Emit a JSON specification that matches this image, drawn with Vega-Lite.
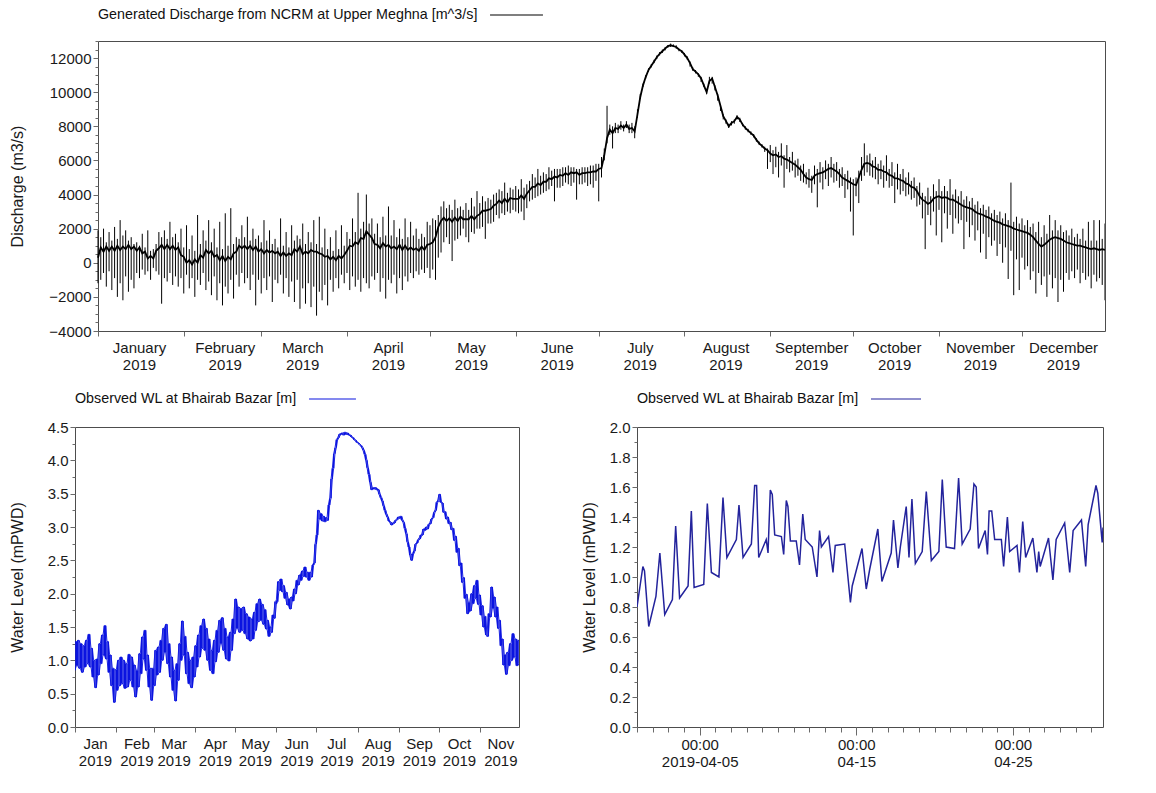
{
  "$schema": "https://vega.github.io/schema/vega-lite/v6.json",
  "background": "white",
  "padding": {"left": 8, "top": 7, "right": 5, "bottom": 5},
  "columns": 1,
  "align": "none",
  "spacing": 18,
  "config": {
    "font": "Liberation Sans",
    "view": {"stroke": "#4d4d4d", "strokeWidth": 1},
    "axis": {
      "grid": false, "domain": false, "domainColor": "#4d4d4d", "domainWidth": 1,
      "labelFont": "Liberation Sans", "labelFontSize": 15, "labelColor": "#1a1a1a",
      "titleFont": "Liberation Sans", "titleFontSize": 16, "titleFontWeight": "normal", "titleColor": "#1a1a1a",
      "tickColor": "#6a6a6a", "labelLineHeight": 17
    },
    "legend": {
      "titleFont": "Liberation Sans", "titleFontSize": 14.3, "titleFontWeight": "normal", "titleColor": "#111111",
      "titleOrient": "left", "titlePadding": 11, "titleLimit": 700, "clipHeight": 16,
      "symbolType": "stroke", "symbolStrokeWidth": 1.2, "labelFontSize": 1, "padding": 0
    }
  },
  "resolve": {"scale": {"color": "independent"}, "legend": {"color": "independent"}},
  "datasets": {
    "wa": [
      {"t":"2019-04-01T00:00","v":0.80},{"t":"2019-04-01T09:00","v":1.07},{"t":"2019-04-01T11:30","v":1.04},{"t":"2019-04-01T18:00","v":0.67},
      {"t":"2019-04-02T05:00","v":0.87},{"t":"2019-04-02T11:00","v":1.16},{"t":"2019-04-02T18:30","v":0.75},
      {"t":"2019-04-03T06:15","v":0.85},{"t":"2019-04-03T11:15","v":1.34},{"t":"2019-04-03T17:15","v":0.86},
      {"t":"2019-04-04T06:15","v":0.94},{"t":"2019-04-04T11:15","v":1.44},{"t":"2019-04-04T15:30","v":0.93},
      {"t":"2019-04-05T06:15","v":0.95},{"t":"2019-04-05T11:45","v":1.49},{"t":"2019-04-05T18:00","v":1.03},
      {"t":"2019-04-06T05:30","v":1.00},{"t":"2019-04-06T11:45","v":1.53},{"t":"2019-04-06T17:45","v":1.13},
      {"t":"2019-04-07T08:15","v":1.25},{"t":"2019-04-07T12:15","v":1.48},{"t":"2019-04-07T18:30","v":1.13},
      {"t":"2019-04-08T07:15","v":1.22},{"t":"2019-04-08T12:15","v":1.61},{"t":"2019-04-08T15:15","v":1.61},{"t":"2019-04-08T18:30","v":1.13},
      {"t":"2019-04-09T06:00","v":1.25},{"t":"2019-04-09T08:45","v":1.16},{"t":"2019-04-09T12:15","v":1.58},{"t":"2019-04-09T15:15","v":1.55},{"t":"2019-04-09T19:00","v":1.28},
      {"t":"2019-04-10T05:15","v":1.27},{"t":"2019-04-10T08:45","v":1.15},{"t":"2019-04-10T12:45","v":1.51},{"t":"2019-04-10T15:15","v":1.47},{"t":"2019-04-10T19:00","v":1.24},
      {"t":"2019-04-11T04:00","v":1.24},{"t":"2019-04-11T09:00","v":1.08},{"t":"2019-04-11T14:00","v":1.42},{"t":"2019-04-11T17:45","v":1.25},
      {"t":"2019-04-12T04:30","v":1.20},{"t":"2019-04-12T11:45","v":1.00},{"t":"2019-04-12T15:45","v":1.31},{"t":"2019-04-12T18:30","v":1.20},
      {"t":"2019-04-13T05:30","v":1.27},{"t":"2019-04-13T12:15","v":1.03},{"t":"2019-04-13T15:45","v":1.21},
      {"t":"2019-04-14T06:15","v":1.22},{"t":"2019-04-14T15:00","v":0.83},{"t":"2019-04-14T17:45","v":0.94},
      {"t":"2019-04-15T08:45","v":1.19},{"t":"2019-04-15T15:15","v":0.92},{"t":"2019-04-15T20:30","v":1.05},
      {"t":"2019-04-16T09:00","v":1.32},{"t":"2019-04-16T15:15","v":0.97},
      {"t":"2019-04-17T05:30","v":1.16},{"t":"2019-04-17T09:00","v":1.38},{"t":"2019-04-17T15:45","v":1.06},{"t":"2019-04-17T19:30","v":1.20},
      {"t":"2019-04-18T04:30","v":1.47},{"t":"2019-04-18T08:45","v":1.13},{"t":"2019-04-18T13:15","v":1.52},{"t":"2019-04-18T18:30","v":1.09},
      {"t":"2019-04-19T05:00","v":1.17},{"t":"2019-04-19T11:15","v":1.57},{"t":"2019-04-19T19:00","v":1.11},
      {"t":"2019-04-20T06:30","v":1.17},{"t":"2019-04-20T11:45","v":1.65},{"t":"2019-04-20T17:45","v":1.20},
      {"t":"2019-04-21T06:30","v":1.19},{"t":"2019-04-21T12:45","v":1.66},{"t":"2019-04-21T18:15","v":1.22},
      {"t":"2019-04-22T06:30","v":1.32},{"t":"2019-04-22T12:15","v":1.62},{"t":"2019-04-22T15:45","v":1.60},{"t":"2019-04-22T19:15","v":1.19},
      {"t":"2019-04-23T05:30","v":1.31},{"t":"2019-04-23T09:00","v":1.15},{"t":"2019-04-23T11:30","v":1.44},{"t":"2019-04-23T15:30","v":1.44},{"t":"2019-04-23T20:00","v":1.25},
      {"t":"2019-04-24T06:15","v":1.25},{"t":"2019-04-24T09:45","v":1.07},{"t":"2019-04-24T15:30","v":1.40},{"t":"2019-04-24T19:00","v":1.17},
      {"t":"2019-04-25T06:15","v":1.21},{"t":"2019-04-25T10:00","v":1.03},{"t":"2019-04-25T15:00","v":1.37},{"t":"2019-04-25T19:30","v":1.13},
      {"t":"2019-04-26T06:30","v":1.26},{"t":"2019-04-26T12:45","v":1.03},{"t":"2019-04-26T15:30","v":1.17},{"t":"2019-04-26T17:45","v":1.07},
      {"t":"2019-04-27T06:30","v":1.26},{"t":"2019-04-27T13:15","v":0.98},{"t":"2019-04-27T18:15","v":1.25},
      {"t":"2019-04-28T07:15","v":1.36},{"t":"2019-04-28T15:00","v":1.03},{"t":"2019-04-28T20:15","v":1.31},
      {"t":"2019-04-29T09:00","v":1.38},{"t":"2019-04-29T15:30","v":1.07},{"t":"2019-04-29T19:15","v":1.35},
      {"t":"2019-04-30T07:15","v":1.61},{"t":"2019-04-30T10:00","v":1.56},{"t":"2019-04-30T16:45","v":1.23},{"t":"2019-04-30T18:00","v":1.33}
    ],
    "wl": [
      {"t":"2019-01-01T00:00","lo":0.85,"hi":1.28},{"t":"2019-01-02T00:00","lo":0.92,"hi":1.28},{"t":"2019-01-03T00:00","lo":0.92,"hi":1.30},{"t":"2019-01-04T00:00","lo":0.88,"hi":1.30},
      {"t":"2019-01-05T00:00","lo":0.88,"hi":1.25},{"t":"2019-01-06T00:00","lo":0.82,"hi":1.25},{"t":"2019-01-07T00:00","lo":0.82,"hi":1.22},{"t":"2019-01-08T00:00","lo":0.90,"hi":1.22},
      {"t":"2019-01-09T00:00","lo":0.90,"hi":1.30},{"t":"2019-01-10T00:00","lo":0.95,"hi":1.30},{"t":"2019-01-11T00:00","lo":0.95,"hi":1.39},{"t":"2019-01-12T00:00","lo":0.90,"hi":1.39},
      {"t":"2019-01-13T00:00","lo":0.90,"hi":1.18},{"t":"2019-01-14T00:00","lo":0.75,"hi":1.18},{"t":"2019-01-15T00:00","lo":0.75,"hi":1.00},{"t":"2019-01-16T00:00","lo":0.59,"hi":1.00},
      {"t":"2019-01-17T00:00","lo":0.59,"hi":1.02},{"t":"2019-01-18T00:00","lo":0.78,"hi":1.02},{"t":"2019-01-19T00:00","lo":0.78,"hi":1.25},{"t":"2019-01-20T00:00","lo":0.95,"hi":1.25},
      {"t":"2019-01-21T00:00","lo":0.95,"hi":1.38},{"t":"2019-01-22T00:00","lo":1.08,"hi":1.38},{"t":"2019-01-23T00:00","lo":1.08,"hi":1.52},{"t":"2019-01-24T00:00","lo":1.02,"hi":1.52},
      {"t":"2019-01-25T00:00","lo":1.02,"hi":1.28},{"t":"2019-01-26T00:00","lo":0.82,"hi":1.28},{"t":"2019-01-27T00:00","lo":0.82,"hi":1.08},{"t":"2019-01-28T00:00","lo":0.62,"hi":1.08},
      {"t":"2019-01-29T00:00","lo":0.62,"hi":0.88},{"t":"2019-01-30T00:00","lo":0.37,"hi":0.88},{"t":"2019-01-31T00:00","lo":0.37,"hi":0.86},
      {"t":"2019-02-01T00:00","lo":0.55,"hi":0.86},{"t":"2019-02-02T00:00","lo":0.55,"hi":1.00},{"t":"2019-02-03T00:00","lo":0.62,"hi":1.00},{"t":"2019-02-04T00:00","lo":0.62,"hi":1.05},
      {"t":"2019-02-05T00:00","lo":0.65,"hi":1.05},{"t":"2019-02-06T00:00","lo":0.65,"hi":1.00},{"t":"2019-02-07T00:00","lo":0.58,"hi":1.00},{"t":"2019-02-08T00:00","lo":0.58,"hi":0.95},
      {"t":"2019-02-09T00:00","lo":0.60,"hi":0.95},{"t":"2019-02-10T00:00","lo":0.60,"hi":1.09},{"t":"2019-02-11T00:00","lo":0.70,"hi":1.09},{"t":"2019-02-12T00:00","lo":0.70,"hi":1.05},
      {"t":"2019-02-13T00:00","lo":0.60,"hi":1.05},{"t":"2019-02-14T00:00","lo":0.60,"hi":0.93},{"t":"2019-02-15T00:00","lo":0.45,"hi":0.93},{"t":"2019-02-16T00:00","lo":0.45,"hi":0.85},
      {"t":"2019-02-17T00:00","lo":0.60,"hi":0.85},{"t":"2019-02-18T00:00","lo":0.60,"hi":1.10},{"t":"2019-02-19T00:00","lo":0.80,"hi":1.10},{"t":"2019-02-20T00:00","lo":0.80,"hi":1.35},
      {"t":"2019-02-21T00:00","lo":1.02,"hi":1.35},{"t":"2019-02-22T00:00","lo":1.02,"hi":1.45},{"t":"2019-02-23T00:00","lo":0.85,"hi":1.45},{"t":"2019-02-24T00:00","lo":0.85,"hi":1.08},
      {"t":"2019-02-25T00:00","lo":0.60,"hi":1.08},{"t":"2019-02-26T00:00","lo":0.60,"hi":0.88},{"t":"2019-02-27T00:00","lo":0.40,"hi":0.88},{"t":"2019-02-28T00:00","lo":0.40,"hi":0.88},
      {"t":"2019-03-01T00:00","lo":0.62,"hi":0.88},{"t":"2019-03-02T00:00","lo":0.62,"hi":1.15},{"t":"2019-03-03T00:00","lo":0.78,"hi":1.15},{"t":"2019-03-04T00:00","lo":0.78,"hi":1.20},
      {"t":"2019-03-05T00:00","lo":0.82,"hi":1.20},{"t":"2019-03-06T00:00","lo":0.82,"hi":1.30},{"t":"2019-03-07T00:00","lo":1.00,"hi":1.30},{"t":"2019-03-08T00:00","lo":1.00,"hi":1.48},
      {"t":"2019-03-09T00:00","lo":1.12,"hi":1.48},{"t":"2019-03-10T00:00","lo":1.12,"hi":1.54},{"t":"2019-03-11T00:00","lo":0.95,"hi":1.54},{"t":"2019-03-12T00:00","lo":0.95,"hi":1.25},
      {"t":"2019-03-13T00:00","lo":0.75,"hi":1.25},{"t":"2019-03-14T00:00","lo":0.75,"hi":1.05},{"t":"2019-03-15T00:00","lo":0.55,"hi":1.05},{"t":"2019-03-16T00:00","lo":0.55,"hi":0.85},
      {"t":"2019-03-17T00:00","lo":0.39,"hi":0.85},{"t":"2019-03-18T00:00","lo":0.39,"hi":0.95},{"t":"2019-03-19T00:00","lo":0.70,"hi":0.95},{"t":"2019-03-20T00:00","lo":0.70,"hi":1.25},
      {"t":"2019-03-21T00:00","lo":1.00,"hi":1.25},{"t":"2019-03-22T00:00","lo":1.00,"hi":1.59},{"t":"2019-03-23T00:00","lo":1.08,"hi":1.59},{"t":"2019-03-24T00:00","lo":1.08,"hi":1.36},
      {"t":"2019-03-25T00:00","lo":0.80,"hi":1.36},{"t":"2019-03-26T00:00","lo":0.80,"hi":1.12},{"t":"2019-03-27T00:00","lo":0.65,"hi":1.12},{"t":"2019-03-28T00:00","lo":0.65,"hi":1.00},
      {"t":"2019-03-29T00:00","lo":0.59,"hi":1.00},{"t":"2019-03-30T00:00","lo":0.59,"hi":1.05},{"t":"2019-03-31T00:00","lo":0.75,"hi":1.05},
      {"t":"2019-04-01T00:00","lo":0.75,"hi":1.22},{"t":"2019-04-02T00:00","lo":0.90,"hi":1.22},{"t":"2019-04-03T00:00","lo":0.90,"hi":1.38},{"t":"2019-04-04T00:00","lo":1.05,"hi":1.38},
      {"t":"2019-04-05T00:00","lo":1.05,"hi":1.52},{"t":"2019-04-06T00:00","lo":1.18,"hi":1.52},{"t":"2019-04-07T00:00","lo":1.18,"hi":1.62},{"t":"2019-04-08T00:00","lo":1.15,"hi":1.62},
      {"t":"2019-04-09T00:00","lo":1.15,"hi":1.48},{"t":"2019-04-10T00:00","lo":1.00,"hi":1.48},{"t":"2019-04-11T00:00","lo":1.00,"hi":1.32},{"t":"2019-04-12T00:00","lo":0.85,"hi":1.32},
      {"t":"2019-04-13T00:00","lo":0.85,"hi":1.15},{"t":"2019-04-14T00:00","lo":0.80,"hi":1.15},{"t":"2019-04-15T00:00","lo":0.80,"hi":1.30},{"t":"2019-04-16T00:00","lo":0.98,"hi":1.30},
      {"t":"2019-04-17T00:00","lo":0.98,"hi":1.45},{"t":"2019-04-18T00:00","lo":1.12,"hi":1.45},{"t":"2019-04-19T00:00","lo":1.12,"hi":1.60},{"t":"2019-04-20T00:00","lo":1.25,"hi":1.60},
      {"t":"2019-04-21T00:00","lo":1.25,"hi":1.64},{"t":"2019-04-22T00:00","lo":1.15,"hi":1.64},{"t":"2019-04-23T00:00","lo":1.15,"hi":1.48},{"t":"2019-04-24T00:00","lo":1.02,"hi":1.48},
      {"t":"2019-04-25T00:00","lo":1.02,"hi":1.35},{"t":"2019-04-26T00:00","lo":0.99,"hi":1.35},{"t":"2019-04-27T00:00","lo":0.99,"hi":1.42},{"t":"2019-04-28T00:00","lo":1.15,"hi":1.42},
      {"t":"2019-04-29T00:00","lo":1.15,"hi":1.62},{"t":"2019-04-30T00:00","lo":1.40,"hi":1.62},
      {"t":"2019-05-01T00:00","lo":1.40,"hi":1.92},{"t":"2019-05-02T00:00","lo":1.48,"hi":1.92},{"t":"2019-05-03T00:00","lo":1.48,"hi":1.80},{"t":"2019-05-04T00:00","lo":1.42,"hi":1.80},
      {"t":"2019-05-05T00:00","lo":1.42,"hi":1.78},{"t":"2019-05-06T00:00","lo":1.45,"hi":1.78},{"t":"2019-05-07T00:00","lo":1.45,"hi":1.80},{"t":"2019-05-08T00:00","lo":1.40,"hi":1.80},
      {"t":"2019-05-09T00:00","lo":1.40,"hi":1.70},{"t":"2019-05-10T00:00","lo":1.32,"hi":1.70},{"t":"2019-05-11T00:00","lo":1.32,"hi":1.65},{"t":"2019-05-12T00:00","lo":1.29,"hi":1.65},
      {"t":"2019-05-13T00:00","lo":1.29,"hi":1.62},{"t":"2019-05-14T00:00","lo":1.32,"hi":1.62},{"t":"2019-05-15T00:00","lo":1.32,"hi":1.72},{"t":"2019-05-16T00:00","lo":1.45,"hi":1.72},
      {"t":"2019-05-17T00:00","lo":1.45,"hi":1.85},{"t":"2019-05-18T00:00","lo":1.58,"hi":1.85},{"t":"2019-05-19T00:00","lo":1.58,"hi":1.92},{"t":"2019-05-20T00:00","lo":1.60,"hi":1.92},
      {"t":"2019-05-21T00:00","lo":1.60,"hi":1.84},{"t":"2019-05-22T00:00","lo":1.54,"hi":1.84},{"t":"2019-05-23T00:00","lo":1.54,"hi":1.76},{"t":"2019-05-24T00:00","lo":1.47,"hi":1.76},
      {"t":"2019-05-25T00:00","lo":1.47,"hi":1.60},{"t":"2019-05-26T00:00","lo":1.36,"hi":1.60},{"t":"2019-05-27T00:00","lo":1.36,"hi":1.50},{"t":"2019-05-28T00:00","lo":1.42,"hi":1.50},
      {"t":"2019-05-29T00:00","lo":1.42,"hi":1.68},{"t":"2019-05-30T00:00","lo":1.63,"hi":1.68},{"t":"2019-05-31T00:00","lo":1.63,"hi":1.88},
      {"t":"2019-06-01T00:00","lo":1.84,"hi":1.90},{"t":"2019-06-02T00:00","lo":1.88,"hi":2.18},{"t":"2019-06-03T00:00","lo":2.05,"hi":2.18},{"t":"2019-06-04T00:00","lo":2.05,"hi":2.22},
      {"t":"2019-06-05T00:00","lo":2.03,"hi":2.22},{"t":"2019-06-06T00:00","lo":2.03,"hi":2.12},{"t":"2019-06-07T00:00","lo":1.93,"hi":2.12},{"t":"2019-06-08T00:00","lo":1.93,"hi":2.02},
      {"t":"2019-06-09T00:00","lo":1.83,"hi":2.02},{"t":"2019-06-10T00:00","lo":1.83,"hi":1.92},{"t":"2019-06-11T00:00","lo":1.77,"hi":1.92},{"t":"2019-06-12T00:00","lo":1.77,"hi":1.95},
      {"t":"2019-06-13T00:00","lo":1.89,"hi":1.95},{"t":"2019-06-14T00:00","lo":1.89,"hi":2.07},{"t":"2019-06-15T00:00","lo":2.00,"hi":2.07},{"t":"2019-06-16T00:00","lo":2.00,"hi":2.20},
      {"t":"2019-06-17T00:00","lo":2.13,"hi":2.20},{"t":"2019-06-18T00:00","lo":2.13,"hi":2.28},{"t":"2019-06-19T00:00","lo":2.20,"hi":2.28},{"t":"2019-06-20T00:00","lo":2.20,"hi":2.34},
      {"t":"2019-06-21T00:00","lo":2.26,"hi":2.34},{"t":"2019-06-22T00:00","lo":2.26,"hi":2.40},{"t":"2019-06-23T00:00","lo":2.25,"hi":2.40},{"t":"2019-06-24T00:00","lo":2.25,"hi":2.32},
      {"t":"2019-06-25T00:00","lo":2.20,"hi":2.32},{"t":"2019-06-26T00:00","lo":2.20,"hi":2.32},{"t":"2019-06-27T00:00","lo":2.25,"hi":2.32},{"t":"2019-06-28T00:00","lo":2.25,"hi":2.43},
      {"t":"2019-06-29T00:00","lo":2.43,"hi":2.46},{"t":"2019-06-30T00:00","lo":2.46,"hi":2.74},
      {"t":"2019-07-01T00:00","lo":2.74,"hi":2.88},{"t":"2019-07-02T00:00","lo":2.88,"hi":3.25},{"t":"2019-07-03T00:00","lo":3.12,"hi":3.25},{"t":"2019-07-04T00:00","lo":3.12,"hi":3.20},
      {"t":"2019-07-05T00:00","lo":3.09,"hi":3.20},{"t":"2019-07-06T00:00","lo":3.09,"hi":3.16},{"t":"2019-07-07T00:00","lo":3.08,"hi":3.16},{"t":"2019-07-08T00:00","lo":3.08,"hi":3.14},
      {"t":"2019-07-09T00:00","lo":3.10,"hi":3.14},{"t":"2019-07-10T00:00","lo":3.10,"hi":3.33},{"t":"2019-07-11T00:00","lo":3.33,"hi":3.43},{"t":"2019-07-12T00:00","lo":3.43,"hi":3.72},
      {"t":"2019-07-13T00:00","lo":3.72,"hi":3.88},{"t":"2019-07-14T00:00","lo":3.88,"hi":4.10},{"t":"2019-07-15T00:00","lo":4.10,"hi":4.19},{"t":"2019-07-16T00:00","lo":4.19,"hi":4.31},
      {"t":"2019-07-17T00:00","lo":4.31,"hi":4.34},{"t":"2019-07-18T00:00","lo":4.34,"hi":4.39},{"t":"2019-07-19T00:00","lo":4.38,"hi":4.40},{"t":"2019-07-20T00:00","lo":4.39,"hi":4.41},
      {"t":"2019-07-21T00:00","lo":4.38,"hi":4.41},{"t":"2019-07-22T00:00","lo":4.38,"hi":4.42},{"t":"2019-07-23T00:00","lo":4.39,"hi":4.42},{"t":"2019-07-24T00:00","lo":4.39,"hi":4.41},
      {"t":"2019-07-25T00:00","lo":4.38,"hi":4.41},{"t":"2019-07-26T00:00","lo":4.37,"hi":4.38},{"t":"2019-07-27T00:00","lo":4.35,"hi":4.38},{"t":"2019-07-28T00:00","lo":4.34,"hi":4.35},
      {"t":"2019-07-29T00:00","lo":4.31,"hi":4.34},{"t":"2019-07-30T00:00","lo":4.30,"hi":4.31},{"t":"2019-07-31T00:00","lo":4.27,"hi":4.30},
      {"t":"2019-08-01T00:00","lo":4.26,"hi":4.27},{"t":"2019-08-02T00:00","lo":4.24,"hi":4.26},{"t":"2019-08-03T00:00","lo":4.22,"hi":4.24},{"t":"2019-08-04T00:00","lo":4.19,"hi":4.22},
      {"t":"2019-08-05T00:00","lo":4.15,"hi":4.19},{"t":"2019-08-06T00:00","lo":4.09,"hi":4.15},{"t":"2019-08-07T00:00","lo":4.00,"hi":4.09},{"t":"2019-08-08T00:00","lo":3.89,"hi":4.00},
      {"t":"2019-08-09T00:00","lo":3.79,"hi":3.89},{"t":"2019-08-10T00:00","lo":3.67,"hi":3.79},{"t":"2019-08-11T00:00","lo":3.56,"hi":3.67},{"t":"2019-08-12T00:00","lo":3.56,"hi":3.59},
      {"t":"2019-08-13T00:00","lo":3.57,"hi":3.59},{"t":"2019-08-14T00:00","lo":3.57,"hi":3.59},{"t":"2019-08-15T00:00","lo":3.56,"hi":3.59},{"t":"2019-08-16T00:00","lo":3.55,"hi":3.57},
      {"t":"2019-08-17T00:00","lo":3.49,"hi":3.56},{"t":"2019-08-18T00:00","lo":3.44,"hi":3.49},{"t":"2019-08-19T00:00","lo":3.39,"hi":3.44},{"t":"2019-08-20T00:00","lo":3.32,"hi":3.39},
      {"t":"2019-08-21T00:00","lo":3.25,"hi":3.32},{"t":"2019-08-22T00:00","lo":3.19,"hi":3.25},{"t":"2019-08-23T00:00","lo":3.15,"hi":3.19},{"t":"2019-08-24T00:00","lo":3.09,"hi":3.15},
      {"t":"2019-08-25T00:00","lo":3.07,"hi":3.09},{"t":"2019-08-26T00:00","lo":3.03,"hi":3.07},{"t":"2019-08-27T00:00","lo":3.03,"hi":3.06},{"t":"2019-08-28T00:00","lo":3.05,"hi":3.07},
      {"t":"2019-08-29T00:00","lo":3.06,"hi":3.10},{"t":"2019-08-30T00:00","lo":3.10,"hi":3.11},{"t":"2019-08-31T00:00","lo":3.11,"hi":3.15},
      {"t":"2019-09-01T00:00","lo":3.13,"hi":3.15},{"t":"2019-09-02T00:00","lo":3.13,"hi":3.16},{"t":"2019-09-03T00:00","lo":3.10,"hi":3.16},{"t":"2019-09-04T00:00","lo":3.07,"hi":3.10},
      {"t":"2019-09-05T00:00","lo":2.98,"hi":3.07},{"t":"2019-09-06T00:00","lo":2.90,"hi":2.98},{"t":"2019-09-07T00:00","lo":2.78,"hi":2.90},{"t":"2019-09-08T00:00","lo":2.70,"hi":2.78},
      {"t":"2019-09-09T00:00","lo":2.58,"hi":2.70},{"t":"2019-09-10T00:00","lo":2.50,"hi":2.58},{"t":"2019-09-11T00:00","lo":2.50,"hi":2.60},{"t":"2019-09-12T00:00","lo":2.60,"hi":2.64},
      {"t":"2019-09-13T00:00","lo":2.64,"hi":2.74},{"t":"2019-09-14T00:00","lo":2.74,"hi":2.76},{"t":"2019-09-15T00:00","lo":2.76,"hi":2.81},{"t":"2019-09-16T00:00","lo":2.81,"hi":2.83},
      {"t":"2019-09-17T00:00","lo":2.82,"hi":2.88},{"t":"2019-09-18T00:00","lo":2.87,"hi":2.89},{"t":"2019-09-19T00:00","lo":2.88,"hi":2.97},{"t":"2019-09-20T00:00","lo":2.95,"hi":2.97},
      {"t":"2019-09-21T00:00","lo":2.95,"hi":3.00},{"t":"2019-09-22T00:00","lo":2.97,"hi":3.00},{"t":"2019-09-23T00:00","lo":2.97,"hi":3.04},{"t":"2019-09-24T00:00","lo":3.04,"hi":3.06},
      {"t":"2019-09-25T00:00","lo":3.05,"hi":3.12},{"t":"2019-09-26T00:00","lo":3.12,"hi":3.14},{"t":"2019-09-27T00:00","lo":3.14,"hi":3.22},{"t":"2019-09-28T00:00","lo":3.22,"hi":3.25},
      {"t":"2019-09-29T00:00","lo":3.25,"hi":3.37},{"t":"2019-09-30T00:00","lo":3.37,"hi":3.40},
      {"t":"2019-10-01T00:00","lo":3.40,"hi":3.49},{"t":"2019-10-02T00:00","lo":3.37,"hi":3.49},{"t":"2019-10-03T00:00","lo":3.36,"hi":3.37},{"t":"2019-10-04T00:00","lo":3.22,"hi":3.36},
      {"t":"2019-10-05T00:00","lo":3.22,"hi":3.23},{"t":"2019-10-06T00:00","lo":3.12,"hi":3.23},{"t":"2019-10-07T00:00","lo":3.12,"hi":3.15},{"t":"2019-10-08T00:00","lo":3.05,"hi":3.15},
      {"t":"2019-10-09T00:00","lo":3.05,"hi":3.07},{"t":"2019-10-10T00:00","lo":2.96,"hi":3.07},{"t":"2019-10-11T00:00","lo":2.96,"hi":2.98},{"t":"2019-10-12T00:00","lo":2.80,"hi":2.98},
      {"t":"2019-10-13T00:00","lo":2.80,"hi":2.86},{"t":"2019-10-14T00:00","lo":2.62,"hi":2.86},{"t":"2019-10-15T00:00","lo":2.62,"hi":2.68},{"t":"2019-10-16T00:00","lo":2.42,"hi":2.68},
      {"t":"2019-10-17T00:00","lo":2.42,"hi":2.46},{"t":"2019-10-18T00:00","lo":2.17,"hi":2.46},{"t":"2019-10-19T00:00","lo":2.17,"hi":2.24},{"t":"2019-10-20T00:00","lo":1.93,"hi":2.24},
      {"t":"2019-10-21T00:00","lo":1.93,"hi":1.99},{"t":"2019-10-22T00:00","lo":1.70,"hi":1.99},{"t":"2019-10-23T00:00","lo":1.70,"hi":1.87},{"t":"2019-10-24T00:00","lo":1.74,"hi":1.87},
      {"t":"2019-10-25T00:00","lo":1.74,"hi":2.00},{"t":"2019-10-26T00:00","lo":1.85,"hi":2.00},{"t":"2019-10-27T00:00","lo":1.85,"hi":2.12},{"t":"2019-10-28T00:00","lo":1.93,"hi":2.12},
      {"t":"2019-10-29T00:00","lo":1.93,"hi":2.20},{"t":"2019-10-30T00:00","lo":1.84,"hi":2.20},{"t":"2019-10-31T00:00","lo":1.84,"hi":1.98},
      {"t":"2019-11-01T00:00","lo":1.68,"hi":1.98},{"t":"2019-11-02T00:00","lo":1.68,"hi":1.82},{"t":"2019-11-03T00:00","lo":1.50,"hi":1.82},{"t":"2019-11-04T00:00","lo":1.50,"hi":1.66},
      {"t":"2019-11-05T00:00","lo":1.38,"hi":1.66},{"t":"2019-11-06T00:00","lo":1.36,"hi":1.38},{"t":"2019-11-07T00:00","lo":1.36,"hi":1.70},{"t":"2019-11-08T00:00","lo":1.65,"hi":1.70},
      {"t":"2019-11-09T00:00","lo":1.65,"hi":2.10},{"t":"2019-11-10T00:00","lo":1.78,"hi":2.10},{"t":"2019-11-11T00:00","lo":1.78,"hi":1.95},{"t":"2019-11-12T00:00","lo":1.65,"hi":1.95},
      {"t":"2019-11-13T00:00","lo":1.65,"hi":1.80},{"t":"2019-11-14T00:00","lo":1.48,"hi":1.80},{"t":"2019-11-15T00:00","lo":1.48,"hi":1.60},{"t":"2019-11-16T00:00","lo":1.22,"hi":1.60},
      {"t":"2019-11-17T00:00","lo":1.22,"hi":1.32},{"t":"2019-11-18T00:00","lo":0.93,"hi":1.32},{"t":"2019-11-19T00:00","lo":0.93,"hi":1.08},{"t":"2019-11-20T00:00","lo":0.79,"hi":1.08},
      {"t":"2019-11-21T00:00","lo":0.79,"hi":1.12},{"t":"2019-11-22T00:00","lo":0.92,"hi":1.12},{"t":"2019-11-23T00:00","lo":0.92,"hi":1.25},{"t":"2019-11-24T00:00","lo":1.00,"hi":1.25},
      {"t":"2019-11-25T00:00","lo":1.00,"hi":1.40},{"t":"2019-11-26T00:00","lo":1.05,"hi":1.40},{"t":"2019-11-27T00:00","lo":1.05,"hi":1.32},{"t":"2019-11-28T00:00","lo":0.92,"hi":1.32},
      {"t":"2019-11-29T00:00","lo":0.92,"hi":1.30},{"t":"2019-11-30T00:00","lo":0.95,"hi":1.30}
    ],
    "dq": [
      {"t":"2019-01-01T00:00","c":300,"lo":-1200,"hi":1900},{"t":"2019-01-02T00:00","c":900,"lo":-1000,"hi":1500},{"t":"2019-01-03T00:00","c":650,"lo":-600,"hi":2000},
      {"t":"2019-01-04T00:00","c":950,"lo":-1400,"hi":1200},{"t":"2019-01-05T00:00","c":700,"lo":-500,"hi":1800},{"t":"2019-01-06T00:00","c":950,"lo":-1600,"hi":1300},
      {"t":"2019-01-07T00:00","c":700,"lo":-900,"hi":2100},{"t":"2019-01-08T00:00","c":1000,"lo":-2000,"hi":1400},{"t":"2019-01-09T00:00","c":750,"lo":-1200,"hi":2500},
      {"t":"2019-01-10T00:00","c":950,"lo":-2200,"hi":1600},{"t":"2019-01-11T00:00","c":800,"lo":-800,"hi":1900},{"t":"2019-01-12T00:00","c":1050,"lo":-1700,"hi":1300},
      {"t":"2019-01-13T00:00","c":800,"lo":-1000,"hi":1500},{"t":"2019-01-14T00:00","c":950,"lo":-1500,"hi":1100},{"t":"2019-01-15T00:00","c":700,"lo":-600,"hi":1200},
      {"t":"2019-01-16T00:00","c":900,"lo":-900,"hi":1000},{"t":"2019-01-17T00:00","c":550,"lo":-400,"hi":1700},{"t":"2019-01-18T00:00","c":650,"lo":-700,"hi":900},
      {"t":"2019-01-19T00:00","c":250,"lo":-500,"hi":1900},{"t":"2019-01-20T00:00","c":400,"lo":-1000,"hi":700},{"t":"2019-01-21T00:00","c":250,"lo":-300,"hi":800},
      {"t":"2019-01-22T00:00","c":700,"lo":-500,"hi":1100},{"t":"2019-01-23T00:00","c":850,"lo":-700,"hi":1800},{"t":"2019-01-24T00:00","c":1050,"lo":-2400,"hi":1500},
      {"t":"2019-01-25T00:00","c":800,"lo":-900,"hi":1900},{"t":"2019-01-26T00:00","c":1050,"lo":-1100,"hi":1400},{"t":"2019-01-27T00:00","c":800,"lo":-600,"hi":2400},
      {"t":"2019-01-28T00:00","c":1000,"lo":-1300,"hi":1500},{"t":"2019-01-29T00:00","c":750,"lo":-800,"hi":1700},{"t":"2019-01-30T00:00","c":900,"lo":-1400,"hi":1200},
      {"t":"2019-01-31T00:00","c":450,"lo":-900,"hi":2000},
      {"t":"2019-02-01T00:00","c":350,"lo":-1800,"hi":900},{"t":"2019-02-02T00:00","c":0,"lo":-700,"hi":2200},{"t":"2019-02-03T00:00","c":150,"lo":-1500,"hi":800},
      {"t":"2019-02-04T00:00","c":-100,"lo":-900,"hi":1600},{"t":"2019-02-05T00:00","c":200,"lo":-2000,"hi":700},{"t":"2019-02-06T00:00","c":0,"lo":-1000,"hi":2800},
      {"t":"2019-02-07T00:00","c":450,"lo":-1300,"hi":1100},{"t":"2019-02-08T00:00","c":300,"lo":-600,"hi":1900},{"t":"2019-02-09T00:00","c":750,"lo":-1600,"hi":1300},
      {"t":"2019-02-10T00:00","c":550,"lo":-1100,"hi":2500},{"t":"2019-02-11T00:00","c":700,"lo":-1900,"hi":1200},{"t":"2019-02-12T00:00","c":350,"lo":-800,"hi":2000},
      {"t":"2019-02-13T00:00","c":450,"lo":-2200,"hi":900},{"t":"2019-02-14T00:00","c":150,"lo":-1200,"hi":2400},{"t":"2019-02-15T00:00","c":400,"lo":-2500,"hi":800},
      {"t":"2019-02-16T00:00","c":100,"lo":-1400,"hi":2900},{"t":"2019-02-17T00:00","c":350,"lo":-1800,"hi":1000},{"t":"2019-02-18T00:00","c":200,"lo":-1000,"hi":3200},
      {"t":"2019-02-19T00:00","c":550,"lo":-2100,"hi":1100},{"t":"2019-02-20T00:00","c":650,"lo":-700,"hi":1500},{"t":"2019-02-21T00:00","c":1000,"lo":-1400,"hi":1400},
      {"t":"2019-02-22T00:00","c":850,"lo":-600,"hi":2200},{"t":"2019-02-23T00:00","c":1000,"lo":-1200,"hi":1500},{"t":"2019-02-24T00:00","c":800,"lo":-900,"hi":2700},
      {"t":"2019-02-25T00:00","c":1000,"lo":-1600,"hi":1300},{"t":"2019-02-26T00:00","c":750,"lo":-700,"hi":2000},{"t":"2019-02-27T00:00","c":950,"lo":-2500,"hi":1400},
      {"t":"2019-02-28T00:00","c":650,"lo":-1000,"hi":1600},
      {"t":"2019-03-01T00:00","c":800,"lo":-1800,"hi":1200},{"t":"2019-03-02T00:00","c":550,"lo":-900,"hi":2500},{"t":"2019-03-03T00:00","c":750,"lo":-1600,"hi":1300},
      {"t":"2019-03-04T00:00","c":600,"lo":-800,"hi":1900},{"t":"2019-03-05T00:00","c":700,"lo":-2300,"hi":1100},{"t":"2019-03-06T00:00","c":550,"lo":-1000,"hi":1400},
      {"t":"2019-03-07T00:00","c":650,"lo":-1200,"hi":900},{"t":"2019-03-08T00:00","c":400,"lo":-700,"hi":2600},{"t":"2019-03-09T00:00","c":600,"lo":-1800,"hi":1000},
      {"t":"2019-03-10T00:00","c":400,"lo":-900,"hi":1800},{"t":"2019-03-11T00:00","c":550,"lo":-2000,"hi":900},{"t":"2019-03-12T00:00","c":450,"lo":-1100,"hi":2200},
      {"t":"2019-03-13T00:00","c":800,"lo":-2300,"hi":1300},{"t":"2019-03-14T00:00","c":650,"lo":-1000,"hi":1600},{"t":"2019-03-15T00:00","c":950,"lo":-2700,"hi":1400},
      {"t":"2019-03-16T00:00","c":500,"lo":-1500,"hi":2300},{"t":"2019-03-17T00:00","c":650,"lo":-2400,"hi":1100},{"t":"2019-03-18T00:00","c":550,"lo":-1200,"hi":1800},
      {"t":"2019-03-19T00:00","c":750,"lo":-2600,"hi":1200},{"t":"2019-03-20T00:00","c":650,"lo":-1400,"hi":2500},{"t":"2019-03-21T00:00","c":650,"lo":-3100,"hi":1100},
      {"t":"2019-03-22T00:00","c":550,"lo":-1700,"hi":2700},{"t":"2019-03-23T00:00","c":500,"lo":-2200,"hi":900},{"t":"2019-03-24T00:00","c":350,"lo":-1300,"hi":2000},
      {"t":"2019-03-25T00:00","c":400,"lo":-2500,"hi":800},{"t":"2019-03-26T00:00","c":200,"lo":-1000,"hi":1500},{"t":"2019-03-27T00:00","c":350,"lo":-1700,"hi":700},
      {"t":"2019-03-28T00:00","c":150,"lo":-900,"hi":1900},{"t":"2019-03-29T00:00","c":400,"lo":-1500,"hi":800},{"t":"2019-03-30T00:00","c":250,"lo":-700,"hi":2200},
      {"t":"2019-03-31T00:00","c":450,"lo":-1200,"hi":1000},
      {"t":"2019-04-01T00:00","c":700,"lo":-600,"hi":1800},{"t":"2019-04-02T00:00","c":1000,"lo":-1600,"hi":1400},{"t":"2019-04-03T00:00","c":950,"lo":-800,"hi":2600},
      {"t":"2019-04-04T00:00","c":1200,"lo":-1400,"hi":1800},{"t":"2019-04-05T00:00","c":1100,"lo":-1000,"hi":4100},{"t":"2019-04-06T00:00","c":1450,"lo":-1700,"hi":2000},
      {"t":"2019-04-07T00:00","c":1400,"lo":-900,"hi":2400},{"t":"2019-04-08T00:00","c":1850,"lo":-1200,"hi":4000},{"t":"2019-04-09T00:00","c":1650,"lo":-1500,"hi":2300},
      {"t":"2019-04-10T00:00","c":1450,"lo":-800,"hi":2600},{"t":"2019-04-11T00:00","c":1100,"lo":-1000,"hi":1700},{"t":"2019-04-12T00:00","c":1050,"lo":-600,"hi":2300},
      {"t":"2019-04-13T00:00","c":850,"lo":-1700,"hi":1500},{"t":"2019-04-14T00:00","c":1150,"lo":-900,"hi":2700},{"t":"2019-04-15T00:00","c":950,"lo":-2100,"hi":1600},
      {"t":"2019-04-16T00:00","c":1050,"lo":-1000,"hi":3300},{"t":"2019-04-17T00:00","c":850,"lo":-1200,"hi":1600},{"t":"2019-04-18T00:00","c":950,"lo":-700,"hi":2500},
      {"t":"2019-04-19T00:00","c":800,"lo":-1800,"hi":1500},{"t":"2019-04-20T00:00","c":1050,"lo":-900,"hi":2000},{"t":"2019-04-21T00:00","c":750,"lo":-1600,"hi":1400},
      {"t":"2019-04-22T00:00","c":1000,"lo":-800,"hi":2600},{"t":"2019-04-23T00:00","c":750,"lo":-1100,"hi":1500},{"t":"2019-04-24T00:00","c":900,"lo":-600,"hi":2400},
      {"t":"2019-04-25T00:00","c":750,"lo":-900,"hi":1600},{"t":"2019-04-26T00:00","c":850,"lo":-500,"hi":2000},{"t":"2019-04-27T00:00","c":700,"lo":-700,"hi":1400},
      {"t":"2019-04-28T00:00","c":950,"lo":-400,"hi":1700},{"t":"2019-04-29T00:00","c":750,"lo":-600,"hi":1500},{"t":"2019-04-30T00:00","c":1050,"lo":-300,"hi":2400},
      {"t":"2019-05-01T00:00","c":1100,"lo":-900,"hi":2200},{"t":"2019-05-02T00:00","c":1200,"lo":-400,"hi":2600},{"t":"2019-05-03T00:00","c":1500,"lo":-1000,"hi":2500},
      {"t":"2019-05-04T00:00","c":2100,"lo":300,"hi":2800},{"t":"2019-05-05T00:00","c":2450,"lo":600,"hi":3300},{"t":"2019-05-06T00:00","c":2650,"lo":1200,"hi":3600},
      {"t":"2019-05-07T00:00","c":2450,"lo":1500,"hi":3200},{"t":"2019-05-08T00:00","c":2600,"lo":1100,"hi":3400},{"t":"2019-05-09T00:00","c":2400,"lo":100,"hi":3100},
      {"t":"2019-05-10T00:00","c":2650,"lo":1300,"hi":3700},{"t":"2019-05-11T00:00","c":2450,"lo":1400,"hi":3200},{"t":"2019-05-12T00:00","c":2700,"lo":1600,"hi":3300},
      {"t":"2019-05-13T00:00","c":2550,"lo":2000,"hi":3100},{"t":"2019-05-14T00:00","c":2550,"lo":1500,"hi":3500},{"t":"2019-05-15T00:00","c":2550,"lo":1200,"hi":3100},
      {"t":"2019-05-16T00:00","c":2750,"lo":1800,"hi":3800},{"t":"2019-05-17T00:00","c":2550,"lo":1700,"hi":3300},{"t":"2019-05-18T00:00","c":2750,"lo":2000,"hi":4200},
      {"t":"2019-05-19T00:00","c":2850,"lo":2000,"hi":3500},{"t":"2019-05-20T00:00","c":3050,"lo":2100,"hi":3900},{"t":"2019-05-21T00:00","c":3050,"lo":1400,"hi":3600},
      {"t":"2019-05-22T00:00","c":3100,"lo":2300,"hi":3800},{"t":"2019-05-23T00:00","c":3150,"lo":2300,"hi":3700},{"t":"2019-05-24T00:00","c":3350,"lo":2400,"hi":4000},
      {"t":"2019-05-25T00:00","c":3450,"lo":2800,"hi":4100},{"t":"2019-05-26T00:00","c":3650,"lo":2600,"hi":4300},{"t":"2019-05-27T00:00","c":3500,"lo":2900,"hi":4200},
      {"t":"2019-05-28T00:00","c":3750,"lo":2800,"hi":4700},{"t":"2019-05-29T00:00","c":3550,"lo":3000,"hi":4100},{"t":"2019-05-30T00:00","c":3800,"lo":2900,"hi":4400},
      {"t":"2019-05-31T00:00","c":3750,"lo":3100,"hi":4300},
      {"t":"2019-06-01T00:00","c":3750,"lo":3000,"hi":4500},{"t":"2019-06-02T00:00","c":3750,"lo":2900,"hi":4300},{"t":"2019-06-03T00:00","c":3950,"lo":3000,"hi":4900},
      {"t":"2019-06-04T00:00","c":3750,"lo":2500,"hi":4400},{"t":"2019-06-05T00:00","c":4050,"lo":3200,"hi":4600},{"t":"2019-06-06T00:00","c":4250,"lo":3600,"hi":4800},
      {"t":"2019-06-07T00:00","c":4450,"lo":3700,"hi":5200},{"t":"2019-06-08T00:00","c":4450,"lo":3800,"hi":5000},{"t":"2019-06-09T00:00","c":4650,"lo":3900,"hi":5500},
      {"t":"2019-06-10T00:00","c":4550,"lo":4000,"hi":5100},{"t":"2019-06-11T00:00","c":4750,"lo":4100,"hi":5300},{"t":"2019-06-12T00:00","c":4750,"lo":4200,"hi":5200},
      {"t":"2019-06-13T00:00","c":4950,"lo":4300,"hi":5600},{"t":"2019-06-14T00:00","c":4900,"lo":4500,"hi":5400},{"t":"2019-06-15T00:00","c":5050,"lo":3600,"hi":5500},
      {"t":"2019-06-16T00:00","c":5000,"lo":4400,"hi":5500},{"t":"2019-06-17T00:00","c":5150,"lo":4400,"hi":5500},{"t":"2019-06-18T00:00","c":5100,"lo":4500,"hi":5600},
      {"t":"2019-06-19T00:00","c":5250,"lo":4700,"hi":5600},{"t":"2019-06-20T00:00","c":5150,"lo":4600,"hi":5700},{"t":"2019-06-21T00:00","c":5300,"lo":4500,"hi":5600},
      {"t":"2019-06-22T00:00","c":5250,"lo":4700,"hi":5600},{"t":"2019-06-23T00:00","c":5300,"lo":3700,"hi":5500},{"t":"2019-06-24T00:00","c":5150,"lo":4600,"hi":5500},
      {"t":"2019-06-25T00:00","c":5250,"lo":4600,"hi":5600},{"t":"2019-06-26T00:00","c":5250,"lo":4700,"hi":5600},{"t":"2019-06-27T00:00","c":5300,"lo":4500,"hi":5600},
      {"t":"2019-06-28T00:00","c":5300,"lo":4600,"hi":5700},{"t":"2019-06-29T00:00","c":5350,"lo":4400,"hi":5700},{"t":"2019-06-30T00:00","c":5350,"lo":4800,"hi":5800},
      {"t":"2019-07-01T00:00","c":5500,"lo":3600,"hi":5800},{"t":"2019-07-02T00:00","c":5550,"lo":5000,"hi":6200},{"t":"2019-07-03T00:00","c":6300,"lo":6000,"hi":6700},
      {"t":"2019-07-04T00:00","c":7300,"lo":7000,"hi":9200},{"t":"2019-07-05T00:00","c":7800,"lo":7500,"hi":8100},{"t":"2019-07-06T00:00","c":7600,"lo":6700,"hi":8000},
      {"t":"2019-07-07T00:00","c":7900,"lo":7600,"hi":8200},{"t":"2019-07-08T00:00","c":7850,"lo":7600,"hi":8100},{"t":"2019-07-09T00:00","c":8050,"lo":7800,"hi":8300},
      {"t":"2019-07-10T00:00","c":7900,"lo":7700,"hi":8100},{"t":"2019-07-11T00:00","c":8100,"lo":7900,"hi":8300},{"t":"2019-07-12T00:00","c":7850,"lo":7600,"hi":8100},
      {"t":"2019-07-13T00:00","c":7900,"lo":7600,"hi":8200},{"t":"2019-07-14T00:00","c":7700,"lo":7300,"hi":8000},{"t":"2019-07-15T00:00","c":8700,"lo":8500,"hi":9000},
      {"t":"2019-07-16T00:00","c":9700,"lo":9600,"hi":9900},{"t":"2019-07-17T00:00","c":10400,"lo":10300,"hi":10500},{"t":"2019-07-18T00:00","c":10900,"lo":10800,"hi":11000},
      {"t":"2019-07-19T00:00","c":11300,"lo":11200,"hi":11400},{"t":"2019-07-20T00:00","c":11550,"lo":11450,"hi":11650},{"t":"2019-07-21T00:00","c":11800,"lo":11700,"hi":11900},
      {"t":"2019-07-22T00:00","c":12050,"lo":11950,"hi":12150},{"t":"2019-07-23T00:00","c":12250,"lo":12150,"hi":12350},{"t":"2019-07-24T00:00","c":12400,"lo":12300,"hi":12500},
      {"t":"2019-07-25T00:00","c":12550,"lo":12450,"hi":12650},{"t":"2019-07-26T00:00","c":12700,"lo":12600,"hi":12750},{"t":"2019-07-27T00:00","c":12750,"lo":12650,"hi":12850},
      {"t":"2019-07-28T00:00","c":12700,"lo":12650,"hi":12800},{"t":"2019-07-29T00:00","c":12650,"lo":12550,"hi":12750},{"t":"2019-07-30T00:00","c":12500,"lo":12400,"hi":12550},
      {"t":"2019-07-31T00:00","c":12400,"lo":12300,"hi":12450},
      {"t":"2019-08-01T00:00","c":12200,"lo":12100,"hi":12300},{"t":"2019-08-02T00:00","c":12000,"lo":11900,"hi":12100},{"t":"2019-08-03T00:00","c":11700,"lo":11500,"hi":11800},
      {"t":"2019-08-04T00:00","c":11350,"lo":11250,"hi":11450},{"t":"2019-08-05T00:00","c":11200,"lo":11100,"hi":11300},{"t":"2019-08-06T00:00","c":11050,"lo":10900,"hi":11100},
      {"t":"2019-08-07T00:00","c":10800,"lo":10600,"hi":10900},{"t":"2019-08-08T00:00","c":10400,"lo":10300,"hi":10500},{"t":"2019-08-09T00:00","c":10000,"lo":9900,"hi":10200},
      {"t":"2019-08-10T00:00","c":10650,"lo":10500,"hi":10900},{"t":"2019-08-11T00:00","c":10800,"lo":10500,"hi":10900},{"t":"2019-08-12T00:00","c":10300,"lo":10100,"hi":10400},
      {"t":"2019-08-13T00:00","c":9800,"lo":9500,"hi":9900},{"t":"2019-08-14T00:00","c":9200,"lo":8900,"hi":9300},{"t":"2019-08-15T00:00","c":8600,"lo":8400,"hi":8700},
      {"t":"2019-08-16T00:00","c":8300,"lo":8150,"hi":8400},{"t":"2019-08-17T00:00","c":8000,"lo":7900,"hi":8150},{"t":"2019-08-18T00:00","c":8200,"lo":8050,"hi":8300},
      {"t":"2019-08-19T00:00","c":8300,"lo":8150,"hi":8400},{"t":"2019-08-20T00:00","c":8550,"lo":8400,"hi":8650},{"t":"2019-08-21T00:00","c":8400,"lo":8250,"hi":8500},
      {"t":"2019-08-22T00:00","c":8100,"lo":8000,"hi":8200},{"t":"2019-08-23T00:00","c":7900,"lo":7800,"hi":8000},{"t":"2019-08-24T00:00","c":7750,"lo":7650,"hi":7850},
      {"t":"2019-08-25T00:00","c":7600,"lo":7500,"hi":7700},{"t":"2019-08-26T00:00","c":7450,"lo":7350,"hi":7550},{"t":"2019-08-27T00:00","c":7200,"lo":7100,"hi":7300},
      {"t":"2019-08-28T00:00","c":7000,"lo":6900,"hi":7100},{"t":"2019-08-29T00:00","c":6850,"lo":6750,"hi":6950},{"t":"2019-08-30T00:00","c":6700,"lo":6500,"hi":6800},
      {"t":"2019-08-31T00:00","c":6600,"lo":5500,"hi":6700},
      {"t":"2019-09-01T00:00","c":6400,"lo":5900,"hi":6900},{"t":"2019-09-02T00:00","c":6300,"lo":5200,"hi":6600},{"t":"2019-09-03T00:00","c":6350,"lo":5600,"hi":6800},
      {"t":"2019-09-04T00:00","c":6200,"lo":5000,"hi":6500},{"t":"2019-09-05T00:00","c":6250,"lo":5700,"hi":7000},{"t":"2019-09-06T00:00","c":6100,"lo":4400,"hi":6300},
      {"t":"2019-09-07T00:00","c":6050,"lo":5500,"hi":6900},{"t":"2019-09-08T00:00","c":5950,"lo":5300,"hi":6200},{"t":"2019-09-09T00:00","c":5850,"lo":5400,"hi":6500},
      {"t":"2019-09-10T00:00","c":5750,"lo":5000,"hi":6000},{"t":"2019-09-11T00:00","c":5600,"lo":5100,"hi":6100},{"t":"2019-09-12T00:00","c":5450,"lo":4800,"hi":5700},
      {"t":"2019-09-13T00:00","c":5200,"lo":4700,"hi":5800},{"t":"2019-09-14T00:00","c":5000,"lo":4600,"hi":5300},{"t":"2019-09-15T00:00","c":4900,"lo":4400,"hi":5500},
      {"t":"2019-09-16T00:00","c":4850,"lo":4100,"hi":5100},{"t":"2019-09-17T00:00","c":5100,"lo":4600,"hi":5700},{"t":"2019-09-18T00:00","c":5200,"lo":3250,"hi":5500},
      {"t":"2019-09-19T00:00","c":5250,"lo":4700,"hi":5900},{"t":"2019-09-20T00:00","c":5300,"lo":4300,"hi":5600},{"t":"2019-09-21T00:00","c":5400,"lo":4900,"hi":6000},
      {"t":"2019-09-22T00:00","c":5500,"lo":4500,"hi":5800},{"t":"2019-09-23T00:00","c":5550,"lo":5000,"hi":6200},{"t":"2019-09-24T00:00","c":5450,"lo":4700,"hi":5800},
      {"t":"2019-09-25T00:00","c":5350,"lo":4800,"hi":5900},{"t":"2019-09-26T00:00","c":5200,"lo":4400,"hi":5500},{"t":"2019-09-27T00:00","c":5000,"lo":4500,"hi":5600},
      {"t":"2019-09-28T00:00","c":4900,"lo":3800,"hi":5200},{"t":"2019-09-29T00:00","c":4800,"lo":4300,"hi":5400},{"t":"2019-09-30T00:00","c":4700,"lo":3000,"hi":5000},
      {"t":"2019-10-01T00:00","c":4600,"lo":1600,"hi":4900},{"t":"2019-10-02T00:00","c":4550,"lo":3900,"hi":5000},{"t":"2019-10-03T00:00","c":5000,"lo":3500,"hi":5400},
      {"t":"2019-10-04T00:00","c":5450,"lo":4800,"hi":6200},{"t":"2019-10-05T00:00","c":5800,"lo":5100,"hi":7000},{"t":"2019-10-06T00:00","c":5850,"lo":5300,"hi":6300},
      {"t":"2019-10-07T00:00","c":5800,"lo":5100,"hi":6400},{"t":"2019-10-08T00:00","c":5650,"lo":5000,"hi":6000},{"t":"2019-10-09T00:00","c":5600,"lo":4900,"hi":6200},
      {"t":"2019-10-10T00:00","c":5450,"lo":4600,"hi":5800},{"t":"2019-10-11T00:00","c":5450,"lo":4900,"hi":6000},{"t":"2019-10-12T00:00","c":5350,"lo":4400,"hi":5700},
      {"t":"2019-10-13T00:00","c":5300,"lo":4800,"hi":6300},{"t":"2019-10-14T00:00","c":5150,"lo":4400,"hi":5500},{"t":"2019-10-15T00:00","c":5100,"lo":4500,"hi":5900},
      {"t":"2019-10-16T00:00","c":4950,"lo":3500,"hi":5300},{"t":"2019-10-17T00:00","c":4950,"lo":4300,"hi":5800},{"t":"2019-10-18T00:00","c":4850,"lo":4000,"hi":5200},
      {"t":"2019-10-19T00:00","c":4800,"lo":4200,"hi":5500},{"t":"2019-10-20T00:00","c":4650,"lo":3900,"hi":5000},{"t":"2019-10-21T00:00","c":4600,"lo":4000,"hi":5300},
      {"t":"2019-10-22T00:00","c":4450,"lo":3700,"hi":4800},{"t":"2019-10-23T00:00","c":4400,"lo":3800,"hi":5000},{"t":"2019-10-24T00:00","c":4200,"lo":3300,"hi":4500},
      {"t":"2019-10-25T00:00","c":3900,"lo":3400,"hi":4700},{"t":"2019-10-26T00:00","c":3700,"lo":2600,"hi":4100},{"t":"2019-10-27T00:00","c":3600,"lo":800,"hi":3900},
      {"t":"2019-10-28T00:00","c":3450,"lo":2800,"hi":4400},{"t":"2019-10-29T00:00","c":3550,"lo":2200,"hi":3900},{"t":"2019-10-30T00:00","c":3750,"lo":3000,"hi":4600},
      {"t":"2019-10-31T00:00","c":3850,"lo":1600,"hi":4200},
      {"t":"2019-11-01T00:00","c":3900,"lo":3100,"hi":4900},{"t":"2019-11-02T00:00","c":3800,"lo":1200,"hi":4200},{"t":"2019-11-03T00:00","c":3850,"lo":2900,"hi":4500},
      {"t":"2019-11-04T00:00","c":3800,"lo":2000,"hi":4200},{"t":"2019-11-05T00:00","c":3700,"lo":2800,"hi":4900},{"t":"2019-11-06T00:00","c":3700,"lo":1700,"hi":4000},
      {"t":"2019-11-07T00:00","c":3600,"lo":2600,"hi":4300},{"t":"2019-11-08T00:00","c":3500,"lo":2300,"hi":3900},{"t":"2019-11-09T00:00","c":3400,"lo":2500,"hi":4200},
      {"t":"2019-11-10T00:00","c":3300,"lo":800,"hi":3700},{"t":"2019-11-11T00:00","c":3250,"lo":2400,"hi":3900},{"t":"2019-11-12T00:00","c":3200,"lo":1500,"hi":3600},
      {"t":"2019-11-13T00:00","c":3150,"lo":2200,"hi":3800},{"t":"2019-11-14T00:00","c":3000,"lo":1300,"hi":3400},{"t":"2019-11-15T00:00","c":2900,"lo":1900,"hi":3600},
      {"t":"2019-11-16T00:00","c":2850,"lo":600,"hi":3200},{"t":"2019-11-17T00:00","c":2800,"lo":1700,"hi":3400},{"t":"2019-11-18T00:00","c":2700,"lo":220,"hi":3100},
      {"t":"2019-11-19T00:00","c":2650,"lo":1500,"hi":3300},{"t":"2019-11-20T00:00","c":2550,"lo":1000,"hi":2900},{"t":"2019-11-21T00:00","c":2450,"lo":1300,"hi":3100},
      {"t":"2019-11-22T00:00","c":2400,"lo":400,"hi":2800},{"t":"2019-11-23T00:00","c":2350,"lo":1100,"hi":3000},{"t":"2019-11-24T00:00","c":2250,"lo":0,"hi":2600},
      {"t":"2019-11-25T00:00","c":2200,"lo":900,"hi":2900},{"t":"2019-11-26T00:00","c":2150,"lo":-950,"hi":2500},{"t":"2019-11-27T00:00","c":2100,"lo":700,"hi":4700},
      {"t":"2019-11-28T00:00","c":2000,"lo":-1900,"hi":2400},{"t":"2019-11-29T00:00","c":1950,"lo":200,"hi":2700},{"t":"2019-11-30T00:00","c":1900,"lo":-1600,"hi":2300},
      {"t":"2019-12-01T00:00","c":1850,"lo":300,"hi":2600},{"t":"2019-12-02T00:00","c":1800,"lo":-400,"hi":2200},{"t":"2019-12-03T00:00","c":1750,"lo":-200,"hi":2500},
      {"t":"2019-12-04T00:00","c":1650,"lo":-1000,"hi":2100},{"t":"2019-12-05T00:00","c":1500,"lo":-500,"hi":2300},{"t":"2019-12-06T00:00","c":1300,"lo":-1800,"hi":1800},
      {"t":"2019-12-07T00:00","c":1100,"lo":-600,"hi":2400},{"t":"2019-12-08T00:00","c":950,"lo":-1300,"hi":1500},{"t":"2019-12-09T00:00","c":1050,"lo":-800,"hi":2200},
      {"t":"2019-12-10T00:00","c":1200,"lo":-2000,"hi":1700},{"t":"2019-12-11T00:00","c":1350,"lo":-700,"hi":2800},{"t":"2019-12-12T00:00","c":1450,"lo":-1500,"hi":1900},
      {"t":"2019-12-13T00:00","c":1500,"lo":-900,"hi":2500},{"t":"2019-12-14T00:00","c":1450,"lo":-2300,"hi":1900},{"t":"2019-12-15T00:00","c":1400,"lo":-1000,"hi":2200},
      {"t":"2019-12-16T00:00","c":1300,"lo":-1700,"hi":1800},{"t":"2019-12-17T00:00","c":1200,"lo":-600,"hi":1900},{"t":"2019-12-18T00:00","c":1150,"lo":-1000,"hi":1600},
      {"t":"2019-12-19T00:00","c":1100,"lo":-500,"hi":2000},{"t":"2019-12-20T00:00","c":1050,"lo":-900,"hi":1500},{"t":"2019-12-21T00:00","c":1000,"lo":-400,"hi":1700},
      {"t":"2019-12-22T00:00","c":1000,"lo":-1200,"hi":1400},{"t":"2019-12-23T00:00","c":950,"lo":-600,"hi":2000},{"t":"2019-12-24T00:00","c":900,"lo":-1000,"hi":1300},
      {"t":"2019-12-25T00:00","c":850,"lo":-800,"hi":2400},{"t":"2019-12-26T00:00","c":800,"lo":-1500,"hi":1300},{"t":"2019-12-27T00:00","c":850,"lo":-700,"hi":2500},
      {"t":"2019-12-28T00:00","c":800,"lo":-1100,"hi":1300},{"t":"2019-12-29T00:00","c":750,"lo":-900,"hi":2500},{"t":"2019-12-30T00:00","c":800,"lo":-1300,"hi":1400},
      {"t":"2019-12-31T00:00","c":750,"lo":-2200,"hi":2300}
    ]
  },
  "concat": [
    {
      "width": 1030,
      "height": 290,
      "data": {"name": "dq"},
      "view": {"stroke": null},
      "resolve": {"axis": {"x": "independent", "y": "independent"}},
      "layer": [
        {
          "mark": {"type": "rule", "color": "#000000", "strokeWidth": 1, "clip": true},
          "encoding": {
            "x": {"field": "t", "type": "temporal", "axis": null,
                  "scale": {"domain": [{"year": 2019, "month": 1, "date": 1}, {"year": 2019, "month": 12, "date": 31}], "range": [23, 1030]}},
            "y": {"field": "lo", "type": "quantitative", "axis": null,
                  "scale": {"domain": [-4000, 13000], "nice": false, "zero": false}},
            "y2": {"field": "hi"}
          }
        },
        {
          "mark": {"type": "line", "strokeWidth": 1.8, "clip": true},
          "encoding": {
            "x": {
              "field": "t", "type": "temporal",
              "scale": {"domain": [{"year": 2019, "month": 1, "date": 1}, {"year": 2019, "month": 12, "date": 31}], "range": [23, 1030]},
              "axis": {
                "title": null, "tickCount": {"interval": "month", "step": 1}, "domain": true,
                "labelExpr": "[timeFormat(datum.value, '%B'), timeFormat(datum.value, '%Y')]",
                "labelOffset": 41, "labelAlign": "center", "labelBound": false, "labelFlush": false, "labelOverlap": false,
                "tickSize": 5, "labelPadding": 4
              }
            },
            "y": {
              "field": "c", "type": "quantitative",
              "scale": {"domain": [-4000, 13000], "nice": false, "zero": false},
              "axis": {
                "title": "Discharge (m3/s)", "values": [-4000, -2000, 0, 2000, 4000, 6000, 8000, 10000, 12000],
                "format": "d", "tickSize": 5, "labelPadding": 2, "titlePadding": 23, "offset": -23, "domain": true
              }
            },
            "color": {
              "datum": "discharge",
              "scale": {"range": ["#000000"]},
              "legend": {
                "title": "Generated Discharge from NCRM at Upper Meghna [m^3/s]",
                "orient": "none", "legendX": 23, "legendY": -34,
                "symbolSize": 2800, "labelExpr": "''"
              }
            }
          }
        },
        {
          "mark": {"type": "line", "opacity": 0},
          "encoding": {
            "x": {
              "field": "t", "type": "temporal",
              "axis": {"orient": "top", "title": null, "labels": false, "ticks": false, "domain": true}
            },
            "y": {
              "field": "c", "type": "quantitative",
              "axis": {
                "orient": "left", "title": null, "labels": false, "tickSize": 3, "offset": -23,
                "values": [-4000, -3500, -3000, -2500, -2000, -1500, -1000, -500, 0, 500, 1000, 1500, 2000, 2500, 3000, 3500, 4000, 4500, 5000, 5500, 6000, 6500, 7000, 7500, 8000, 8500, 9000, 9500, 10000, 10500, 11000, 11500, 12000, 12500, 13000]
              }
            }
          }
        },
        {
          "mark": {"type": "line", "opacity": 0},
          "encoding": {
            "x": {"field": "t", "type": "temporal", "axis": null},
            "y": {
              "field": "c", "type": "quantitative",
              "axis": {"orient": "right", "title": null, "labels": false, "ticks": false, "domain": true}
            }
          }
        }
      ]
    },
    {
      "spacing": 60,
      "resolve": {"scale": {"color": "independent"}, "legend": {"color": "independent"}},
      "hconcat": [
        {
          "width": 444,
          "height": 300,
          "data": {"name": "wl"},
          "resolve": {"axis": {"x": "independent", "y": "independent"}},
          "layer": [
            {
              "mark": {"type": "rule", "color": "#0b14e0", "strokeWidth": 1.4, "clip": true},
              "encoding": {
                "x": {"field": "t", "type": "temporal", "axis": null,
                      "scale": {"domain": [{"year": 2019, "month": 1, "date": 1}, {"year": 2019, "month": 11, "date": 30}]}},
                "y": {"field": "lo", "type": "quantitative", "axis": null, "scale": {"domain": [0, 4.5], "nice": false}},
                "y2": {"field": "hi"}
              }
            },
            {
              "mark": {"type": "line", "color": "#0b14e0", "strokeWidth": 0.9, "clip": true},
              "encoding": {
                "x": {"field": "t", "type": "temporal", "axis": null},
                "y": {"field": "lo", "type": "quantitative", "axis": null}
              }
            },
            {
              "mark": {"type": "line", "strokeWidth": 0.9, "clip": true},
              "encoding": {
                "x": {
                  "field": "t", "type": "temporal",
                  "scale": {"domain": [{"year": 2019, "month": 1, "date": 1}, {"year": 2019, "month": 11, "date": 30}]},
                  "axis": {
                    "title": null, "tickCount": {"interval": "month", "step": 1},
                    "labelExpr": "[timeFormat(datum.value, '%b'), timeFormat(datum.value, '%Y')]",
                    "labelOffset": 20, "labelAlign": "center", "labelBound": false, "labelFlush": false, "labelOverlap": false,
                    "tickSize": 5, "labelPadding": 4
                  }
                },
                "y": {
                  "field": "hi", "type": "quantitative",
                  "scale": {"domain": [0, 4.5], "nice": false},
                  "axis": {
                    "title": "Water Level (mPWD)", "values": [0, 0.5, 1, 1.5, 2, 2.5, 3, 3.5, 4, 4.5],
                    "format": ".1f", "tickSize": 5, "labelPadding": 2, "titlePadding": 22
                  }
                },
                "color": {
                  "datum": "wl",
                  "scale": {"range": ["#0b14e0"]},
                  "legend": {
                    "title": "Observed WL at Bhairab Bazar [m]",
                    "orient": "none", "legendX": 0, "legendY": -36,
                    "symbolSize": 2200, "labelExpr": "''"
                  }
                }
              }
            },
            {
              "mark": {"type": "line", "opacity": 0},
              "encoding": {
                "x": {"field": "t", "type": "temporal", "axis": null},
                "y": {
                  "field": "hi", "type": "quantitative",
                  "axis": {
                    "orient": "left", "title": null, "labels": false, "tickSize": 3,
                    "values": [0, 0.25, 0.5, 0.75, 1, 1.25, 1.5, 1.75, 2, 2.25, 2.5, 2.75, 3, 3.25, 3.5, 3.75, 4, 4.25, 4.5]
                  }
                }
              }
            }
          ]
        },
        {
          "width": 466,
          "height": 300,
          "data": {"name": "wa"},
          "resolve": {"axis": {"x": "independent", "y": "independent"}},
          "layer": [
            {
              "mark": {"type": "line", "strokeWidth": 1.5, "clip": true},
              "encoding": {
                "x": {
                  "field": "t", "type": "temporal",
                  "scale": {"domain": [{"year": 2019, "month": 4, "date": 1}, {"year": 2019, "month": 4, "date": 30, "hours": 18}]},
                  "axis": {
                    "title": null,
                    "values": [{"year": 2019, "month": 4, "date": 5}, {"year": 2019, "month": 4, "date": 15}, {"year": 2019, "month": 4, "date": 25}],
                    "labelExpr": "[timeFormat(datum.value, '%H:%M'), timeFormat(datum.value, '%d') == '05' ? timeFormat(datum.value, '%Y-%m-%d') : timeFormat(datum.value, '%m-%d')]",
                    "labelAlign": "center", "labelBound": false, "labelFlush": false, "labelOverlap": false,
                    "tickSize": 8, "labelPadding": 2
                  }
                },
                "y": {
                  "field": "v", "type": "quantitative",
                  "scale": {"domain": [0, 2], "nice": false},
                  "axis": {
                    "title": "Water Level (mPWD)", "values": [0, 0.2, 0.4, 0.6, 0.8, 1, 1.2, 1.4, 1.6, 1.8, 2],
                    "format": ".1f", "tickSize": 5, "labelPadding": 2, "titlePadding": 12
                  }
                },
                "color": {
                  "datum": "wa",
                  "scale": {"range": ["#23239c"]},
                  "legend": {
                    "title": "Observed WL at Bhairab Bazar [m]",
                    "orient": "none", "legendX": 0, "legendY": -36,
                    "symbolSize": 2500, "labelExpr": "''"
                  }
                }
              }
            },
            {
              "mark": {"type": "line", "opacity": 0},
              "encoding": {
                "x": {
                  "field": "t", "type": "temporal",
                  "axis": {"orient": "bottom", "title": null, "labels": false, "tickSize": 5, "tickCount": {"interval": "day", "step": 1}}
                },
                "y": {
                  "field": "v", "type": "quantitative",
                  "axis": {
                    "orient": "left", "title": null, "labels": false, "tickSize": 3,
                    "values": [0, 0.1, 0.2, 0.3, 0.4, 0.5, 0.6, 0.7, 0.8, 0.9, 1, 1.1, 1.2, 1.3, 1.4, 1.5, 1.6, 1.7, 1.8, 1.9, 2]
                  }
                }
              }
            }
          ]
        }
      ]
    }
  ]
}
